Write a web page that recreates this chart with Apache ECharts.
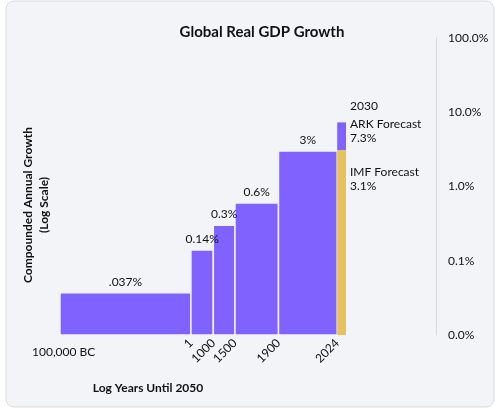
<!DOCTYPE html><html><head><meta charset="utf-8">
<script src="https://cdn.jsdelivr.net/npm/echarts@6/dist/echarts.min.js"></script>
<style>html,body{margin:0;background:#fff}#c{width:500px;height:409px}</style></head><body><div id="c"></div><script>
// years (AD; negative = BC) bounding each period
const periodStart = [-100000, 1, 1000, 1500, 1900];
const periodEnd   = [1, 1000, 1500, 1900, 2024];
const growth      = [0.037, 0.14, 0.3, 0.6, 3];
const growthLabels = ['.037%', '0.14%', '0.3%', '0.6%', '3%'];
const imfForecast = 3.1;   // 2024-2030
const arkForecast = 7.3;   // 2024-2030
const tickYears = [1, 1000, 1500, 1900, 2024];
const tickLabels = ['1', '1000', '1500', '1900', '2024'];
const purple = '#7F62FF', gold = '#E5C25B';
const F = 'Lato';
function yl(y){ return Math.log10(2050 - y); }
const bars = periodStart.map((s,i)=>[yl(s), yl(periodEnd[i]), 0.01, growth[i], purple, growthLabels[i], 'top']);
bars.push([yl(2024), yl(2030), 0.01, imfForecast, gold, '', 'none']);
bars.push([yl(2024), yl(2030), imfForecast, arkForecast, purple, '', 'none']);
const chart = echarts.init(document.getElementById('c'));
chart.setOption({
  backgroundColor:'#fff',
  textStyle:{fontFamily:F},
  graphic:[{type:'rect',shape:{x:6,y:1,width:488,height:406,r:8},style:{fill:'#F3F4F7',stroke:'#D9DBE0',lineWidth:1},z:-10},
    {type:'text',x:36,y:205,rotation:Math.PI/2,style:{text:'Compounded Annual Growth\n(Log Scale)',fontFamily:F,fontSize:12,fontWeight:'bold',fill:'#111',align:'center',verticalAlign:'middle',lineHeight:16}}],
  title:{text:'Global Real GDP Growth',left:257,textAlign:'center',top:20,textStyle:{fontFamily:F,fontSize:15,fontWeight:'bold',color:'#111'}},
  grid:{left:60,right:154,top:38,bottom:74,outerBoundsMode:'none',containLabel:false},
  xAxis:{type:'value',inverse:true,min:yl(2030),max:yl(-100000),
    axisLine:{show:false},axisTick:{show:false},splitLine:{show:false},
    axisLabel:{customValues:tickYears.map(yl),rotate:45,margin:6,fontFamily:F,fontSize:12,color:'#111',
      formatter:v=>{let i=tickYears.map(yl).findIndex(t=>Math.abs(t-v)<1e-6);return i>=0?tickLabels[i]:'';}},
    name:'Log Years Until 2050',nameLocation:'middle',nameGap:47,
    nameTextStyle:{fontFamily:F,fontSize:12,fontWeight:'bold',color:'#111',padding:[0,0,0,-110]}},
  yAxis:{type:'log',logBase:10,min:0.01,max:100,position:'right',offset:90,
    axisLine:{show:true,lineStyle:{color:'#D8DADF'}},axisTick:{show:false},splitLine:{show:false},
    axisLabel:{margin:12,fontFamily:F,fontSize:12,color:'#111',formatter:v=>v.toFixed(1)+'%'}},
  series:[{type:'custom',data:bars,renderItem:(p,api)=>{
    const a=api.coord([api.value(0),api.value(3)]), b=api.coord([api.value(1),api.value(2)]);
    const d=bars[p.dataIndex];
    return {type:'rect',shape:{x:a[0],y:a[1],width:b[0]-a[0],height:b[1]-a[1]},
      style:{fill:d[4],stroke:d[6]==='top'?'#F3F4F7':null,lineWidth:1.5,text:d[5],textPosition:'top',textDistance:4,fontFamily:F,fontSize:12,textFill:'#111'}};
  }},
  {type:'custom',data:[[yl(2030),arkForecast],[yl(2030),arkForecast],[yl(2030),1.25],[yl(-100000),0.01]],
   renderItem:(p,api)=>{const c=api.coord([api.value(0),api.value(1)]);
     const d=[[4,-16,'2030','left'],[4,9,'ARK Forecast\n7.3%','left'],[4,0,'IMF Forecast\n3.1%','left'],[-28,17,'100,000 BC','left']][p.dataIndex];
     return {type:'text',x:c[0]+d[0],y:c[1]+d[1],style:{text:d[2],align:d[3],fontFamily:F,fontSize:12,fill:'#111',lineHeight:14,verticalAlign:'middle'}};}}]
});
</script></body></html>
